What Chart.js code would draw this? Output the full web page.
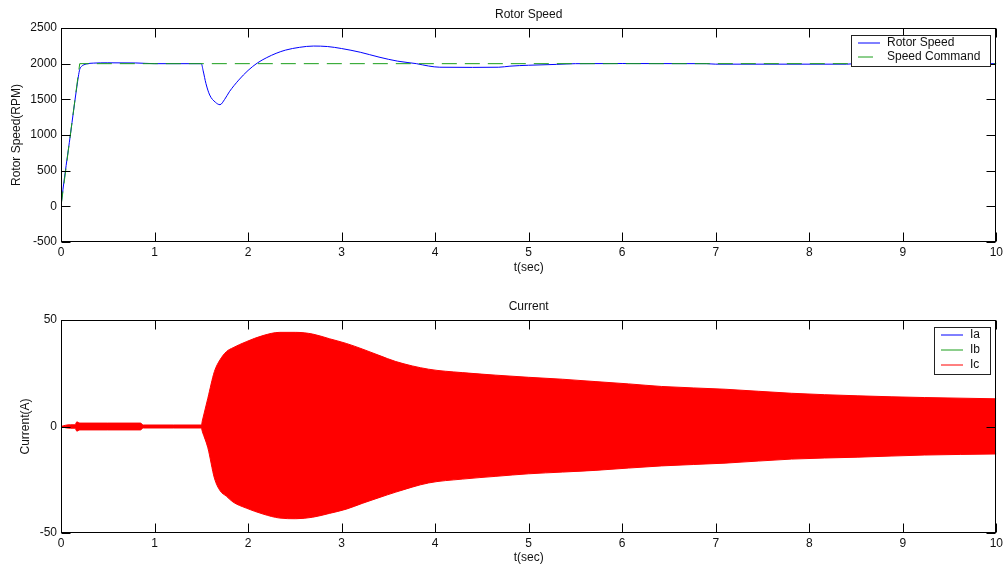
<!DOCTYPE html>
<html>
<head>
<meta charset="utf-8">
<script src="https://cdn.jsdelivr.net/npm/chart.js@4.4.1/dist/chart.umd.min.js"></script>
<style>
  body { margin: 0; background: #fff; }
  canvas { position: absolute; left: 0; }
  #speed { top: 0; }
  #current { top: 283px; }
</style>
</head>
<body>
<canvas id="speed" width="1006" height="283"></canvas>
<canvas id="current" width="1006" height="283"></canvas>
<script>
// tick values
const timeTicks = [0, 1, 2, 3, 4, 5, 6, 7, 8, 9, 10];
const speedTicks = [-500, 0, 500, 1000, 1500, 2000, 2500];
const currentTicks = [-50, 0, 50];

// rotor speed response (RPM)
const speedT = [0, 0.01, 0.1, 0.17, 0.2, 0.22, 0.27, 0.35, 0.5, 0.8, 1.0, 1.5, 1.52, 1.55, 1.59,
  1.65, 1.7, 1.75, 1.8, 1.9, 2.0, 2.1, 2.2, 2.3, 2.4, 2.55, 2.7, 2.85, 3.0, 3.2,
  3.4, 3.6, 3.8, 3.93, 4.05, 4.4, 4.68, 4.8, 5.0, 5.3, 5.5, 6.0, 6.9, 7.0, 8.4, 8.5, 10];
const rotorSpeed = [0, 120, 1000, 1680, 1920, 1962, 1995, 2008, 2012, 2010, 2000, 2000, 1900, 1720, 1560,
  1460, 1425, 1500, 1606, 1770, 1905, 2010, 2085, 2145, 2190, 2229, 2247, 2240, 2212, 2160,
  2092, 2035, 2000, 1967, 1950, 1948, 1950, 1965, 1978, 1990, 2000, 2002, 2000, 1993, 1993, 2000, 2000];

// speed command (RPM)
const cmdT = [0, 0.2, 10];
const speedCommand = [0, 2000, 2000];

// phase current envelope (A)
const curT = [0, 0.05, 0.1, 0.15, 0.17, 0.2, 0.5, 0.85, 0.88, 1.2, 1.5, 1.51, 1.57, 1.64, 1.7, 1.77,
  1.84, 1.98, 2.16, 2.34, 2.51, 2.69, 2.87, 3.05, 3.22, 3.4, 3.58, 3.93, 4.29, 4.65, 5.0,
  5.36, 5.71, 6.07, 6.42, 7.1, 7.81, 8.52, 9.23, 10];
const curUpper = [0, 0.6, 0.8, 0.8, 2.2, 1.6, 1.6, 1.6, 0.7, 0.7, 0.7, 2.5, 13.3, 25.8, 31.3, 35.2,
  37, 39.8, 42.7, 44.2, 44.2, 43.4, 41.2, 39, 36.4, 33.4, 30.5, 26.9, 25.3, 24.1, 23.1,
  22.2, 21.1, 20, 18.8, 17.5, 15.6, 14.4, 13.6, 13];
const curLower = [0, -0.6, -0.8, -0.8, -2.2, -1.6, -1.6, -1.6, -0.7, -0.7, -0.7, -2.2, -10, -24.2, -30.1, -32.8,
  -35.5, -38.3, -41.1, -43, -43.3, -42.6, -40.8, -38.8, -36.1, -33.4, -30.8, -26.5, -24.7, -23.4, -22.2,
  -21.4, -20.6, -19.5, -18.5, -17.2, -15.3, -14.4, -13.4, -12.9];
const phaseNames = ["Ia", "Ib", "Ic"];
const phaseColors = ["#0000ff", "#1a9e1a", "#ff0000"];

const FONT = { family: "'Liberation Sans', Arial, sans-serif", size: 12 };
const TEXT = "#111";
Chart.defaults.font.family = FONT.family;
Chart.defaults.font.size = FONT.size;
Chart.defaults.color = TEXT;

const pts = (xs, ys) => xs.map((x, i) => ({ x: x, y: ys[i] }));

// box around the axes, inward ticks on all sides and a boxed legend top-right
const axesBox = {
  id: "axesBox",
  afterDatasetsDraw(chart, args, opts) {
    const { ctx, chartArea: a, scales: { x, y } } = chart;
    const L = Math.round(a.left) + 0.5, R = Math.round(a.right) - 0.5;
    const T = Math.round(a.top) + 0.5, B = Math.round(a.bottom) - 0.5;
    ctx.save();
    ctx.strokeStyle = "#000";
    ctx.lineWidth = 1;
    ctx.beginPath();
    x.ticks.forEach(t => {
      const px = Math.round(x.getPixelForValue(t.value)) + 0.5;
      ctx.moveTo(px, B); ctx.lineTo(px, B - 9);
      ctx.moveTo(px, T); ctx.lineTo(px, T + 9);
    });
    y.ticks.forEach(t => {
      const py = Math.round(y.getPixelForValue(t.value)) + 0.5;
      ctx.moveTo(L, py); ctx.lineTo(L + 9, py);
      ctx.moveTo(R, py); ctx.lineTo(R - 9, py);
    });
    ctx.stroke();
    ctx.strokeRect(L, T, R - L, B - T);

    // legend
    const items = opts.items || [];
    const rowH = opts.rowH || 14;
    ctx.font = FONT.size + "px " + FONT.family;
    const tw = Math.max(...items.map(it => ctx.measureText(it.text).width));
    const w = Math.round(7 + 22 + 7 + tw + 10);
    const h = Math.round(8 + (items.length - 1) * rowH + 9);
    const bx = Math.round(a.right - 6 - w), by = Math.round(a.top + 7);
    ctx.fillStyle = "#fff";
    ctx.fillRect(bx, by, w, h);
    ctx.strokeStyle = "#222";
    ctx.strokeRect(bx + 0.5, by + 0.5, w, h);
    items.forEach((it, i) => {
      const cy = by + 8 + i * rowH;
      ctx.strokeStyle = it.color;
      ctx.setLineDash(it.dash || []);
      ctx.beginPath();
      ctx.moveTo(bx + 7, Math.round(cy));
      ctx.lineTo(bx + 29, Math.round(cy));
      ctx.stroke();
      ctx.setLineDash([]);
      ctx.fillStyle = TEXT;
      ctx.textBaseline = "middle";
      ctx.textAlign = "left";
      ctx.fillText(it.text, bx + 36, cy);
    });
    ctx.restore();
  }
};

function xScale(height, titlePad) {
  return {
    type: "linear", min: 0, max: 10,
    afterBuildTicks: s => { s.ticks = timeTicks.map(v => ({ value: v })); },
    afterFit: s => { s.height = height; },
    grid: { display: false, drawTicks: false },
    border: { display: false },
    ticks: { padding: 3, color: TEXT, maxRotation: 0, callback: v => String(v) },
    title: { display: true, text: "t(sec)", color: TEXT, padding: { top: 0, bottom: titlePad } }
  };
}

function yScale(min, max, ticks, label, titlePad) {
  return {
    type: "linear", min: min, max: max,
    afterBuildTicks: s => { s.ticks = ticks.map(v => ({ value: v })); },
    afterFit: s => { s.width = 61; },
    grid: { display: false, drawTicks: false },
    border: { display: false },
    ticks: { padding: 4, color: TEXT, callback: v => String(v) },
    title: { display: true, text: label, color: TEXT, padding: { top: titlePad, bottom: 0 } }
  };
}

// Rotor speed
const speedSets = [
  {
    label: "Rotor Speed",
    data: pts(speedT, rotorSpeed),
    borderColor: "#0000ff",
    borderWidth: 1,
    pointRadius: 0,
    cubicInterpolationMode: "monotone",
    order: 1
  },
  {
    label: "Speed Command",
    data: pts(cmdT, speedCommand),
    borderColor: "#1a9e1a",
    borderDash: [15, 8],
    borderWidth: 1,
    pointRadius: 0,
    order: 0
  }
];

new Chart(document.getElementById("speed"), {
  type: "line",
  data: { datasets: speedSets },
  options: {
    responsive: false,
    animation: false,
    layout: { padding: { left: 0, right: 7, top: 0, bottom: 0 } },
    plugins: {
      legend: { display: false },
      tooltip: { enabled: false },
      title: {
        display: true, text: "Rotor Speed", fullSize: false, color: TEXT,
        font: { weight: "normal" }, padding: { top: 7.8, bottom: 5.8 }
      },
      axesBox: {
        rowH: 13.7,
        items: speedSets.map(d => ({ text: d.label, color: d.borderColor, dash: d.borderDash }))
      }
    },
    scales: {
      x: xScale(41, 7.8),
      y: yScale(-500, 2500, speedTicks, "Rotor Speed(RPM)", 9.5)
    }
  },
  plugins: [axesBox]
});

// Phase currents, drawn as the band the three phases sweep out
new Chart(document.getElementById("current"), {
  type: "line",
  data: {
    datasets: [
      {
        label: "Ic",
        data: pts(curT, curUpper),
        borderColor: phaseColors[2],
        backgroundColor: phaseColors[2],
        borderWidth: 1,
        pointRadius: 0,
        cubicInterpolationMode: "monotone",
        fill: "+1"
      },
      {
        label: "Ic",
        data: pts(curT, curLower),
        borderColor: phaseColors[2],
        borderWidth: 1,
        pointRadius: 0,
        cubicInterpolationMode: "monotone",
        fill: false
      }
    ]
  },
  options: {
    responsive: false,
    animation: false,
    layout: { padding: { left: 0, right: 7, top: 0, bottom: 0 } },
    plugins: {
      legend: { display: false },
      tooltip: { enabled: false },
      title: {
        display: true, text: "Current", fullSize: false, color: TEXT,
        font: { weight: "normal" }, padding: { top: 16.5, bottom: 6.1 }
      },
      axesBox: {
        rowH: 14.8,
        items: phaseNames.map((n, i) => ({ text: n, color: phaseColors[i] }))
      }
    },
    scales: {
      x: xScale(33, 0.8),
      y: yScale(-50, 50, currentTicks, "Current(A)", 18.5)
    }
  },
  plugins: [axesBox]
});
</script>
</body>
</html>
